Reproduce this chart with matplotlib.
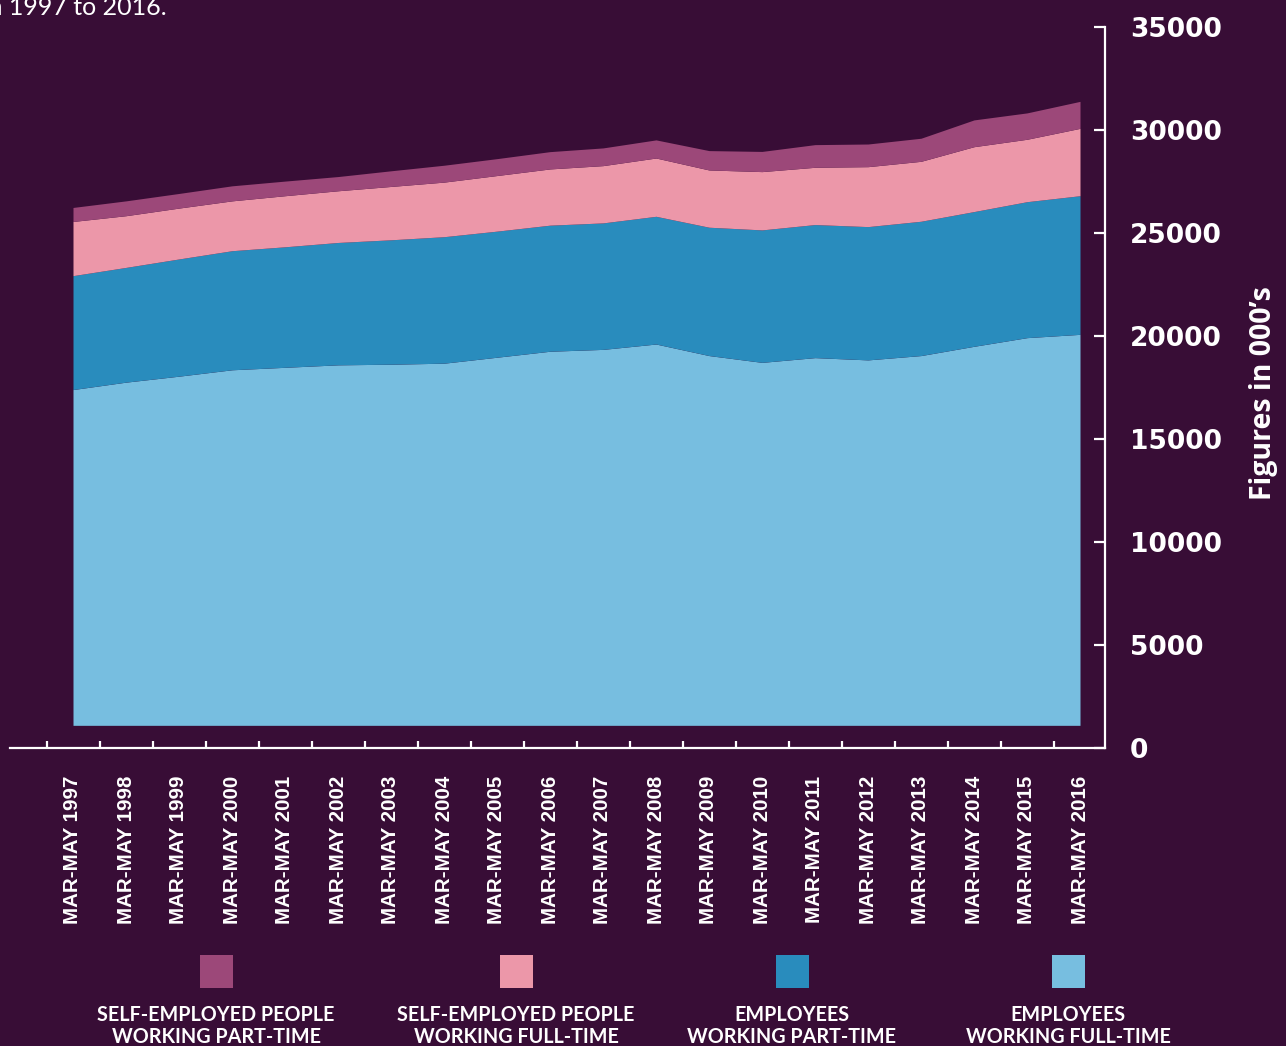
import matplotlib.pyplot as plt
from matplotlib.patches import Rectangle
import numpy as np

# Datos (miles de personas, límites superiores de cada capa)
anios = list(range(1997, 2017))
etiquetas = [f"MAR-MAY {a}" for a in anios]

empleados_completa = [17400, 17760, 18050, 18360, 18480, 18600, 18630, 18680, 18970, 19260,
                      19350, 19610, 19050, 18720, 18950, 18840, 19050, 19500, 19920, 20080]
empleados_parcial = [5530, 5570, 5690, 5780, 5850, 5940, 6040, 6140, 6120, 6120,
                     6140, 6200, 6230, 6430, 6460, 6470, 6520, 6540, 6600, 6730]
autonomos_completa = [2630, 2510, 2470, 2420, 2480, 2510, 2590, 2650, 2700, 2730,
                      2780, 2830, 2780, 2830, 2780, 2910, 2910, 3150, 3030, 3270]
autonomos_parcial = [680, 720, 710, 730, 710, 690, 760, 820, 820, 840,
                     860, 880, 940, 980, 1100, 1100, 1120, 1300, 1280, 1310]

base_area = 1100  # el área del original no arranca en cero

series = [
    ("EMPLOYEES\nWORKING FULL-TIME", empleados_completa, "#77bee0"),
    ("EMPLOYEES\nWORKING PART-TIME", empleados_parcial, "#298cbd"),
    ("SELF-EMPLOYED PEOPLE\nWORKING FULL-TIME", autonomos_completa, "#ec97a9"),
    ("SELF-EMPLOYED PEOPLE\nWORKING PART-TIME", autonomos_parcial, "#9c4879"),
]

fondo = "#380d36"
W, H = 1286, 1046

fig = plt.figure(figsize=(W / 100, H / 100), dpi=100, facecolor=fondo)
ax = fig.add_axes([10 / W, (H - 748) / H, 1095 / W, 721 / H])
ax.set_facecolor(fondo)

x = np.arange(len(anios))
abajo = np.full(len(anios), float(base_area))
arriba = np.zeros(len(anios))
for nombre, valores, color in series:
    arriba = arriba + np.array(valores, dtype=float)
    ax.fill_between(x, abajo, arriba, color=color, lw=0)
    abajo = arriba.copy()

ax.set_xlim(-63 / 53, 1032 / 53)
ax.set_ylim(0, 35000)

for lado in ["top", "left"]:
    ax.spines[lado].set_visible(False)
for lado in ["bottom", "right"]:
    ax.spines[lado].set_color("white")
    ax.spines[lado].set_linewidth(1.6)

# Eje Y a la derecha
ax.yaxis.tick_right()
ax.set_yticks(range(0, 35001, 5000))
ax.set_yticklabels([str(v) for v in range(0, 35001, 5000)],
                   fontsize=19, fontweight="bold", family="DejaVu Sans", color="white")
ax.tick_params(axis="y", direction="in", length=8, width=1.6, color="white", pad=18)

# Eje X: etiquetas en cada año, marcas entre años
ax.set_xticks(x)
ax.set_xticklabels(etiquetas, rotation=90, fontsize=14.8, fontweight="bold",
                   family="Liberation Sans", color="white")
ax.tick_params(axis="x", which="major", length=0, pad=20)
ax.set_xticks(x - 0.5, minor=True)
ax.tick_params(axis="x", which="minor", direction="in", length=5, width=1.6, color="white")

fig.text(1264 / W, 1 - 393 / H, "Figures in 000\u2019s", rotation=90, ha="center", va="center",
         fontsize=20.5, fontweight="bold", family="Open Sans", color="white")

# Texto recortado arriba a la izquierda
fig.text(167 / W, 1 - 15 / H, "from 1997 to 2016.", ha="right", va="baseline",
         fontsize=18, family="Lato", color="white")

# Leyenda manual: cuadrado con texto debajo
centros = [216, 516, 792, 1068]
for cx, (nombre, valores, color) in zip(centros, series[::-1]):
    fig.add_artist(Rectangle(((cx - 16.5) / W, 1 - 988 / H), 33 / W, 33 / H,
                             transform=fig.transFigure, facecolor=color, lw=0))
    fig.text(cx / W, 1 - 1005 / H, nombre, ha="center", va="top", fontsize=14.2,
             fontweight="bold", family="Lato", color="white", linespacing=1.15)

plt.savefig("out.png", dpi=100, facecolor=fondo)
